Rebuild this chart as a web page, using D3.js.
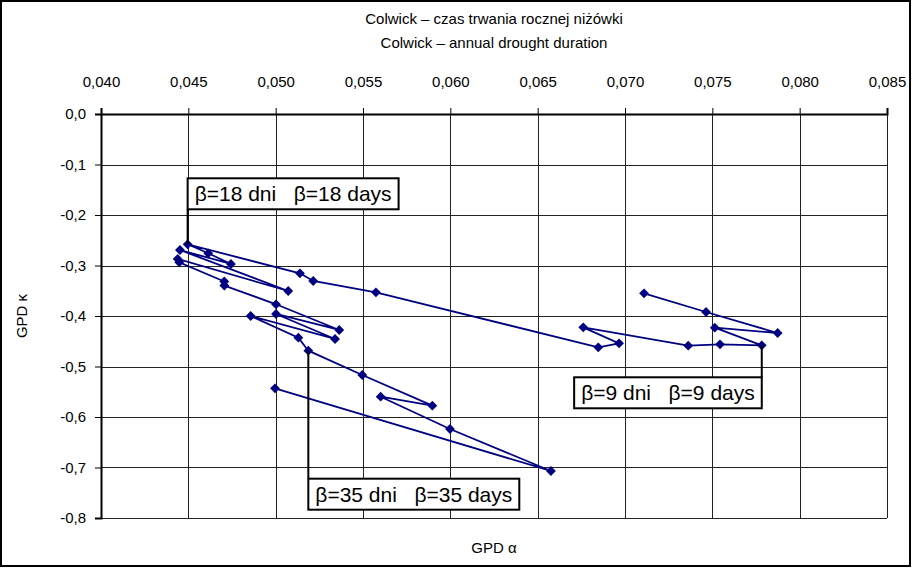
<!DOCTYPE html>
<html><head><meta charset="utf-8">
<script src="https://cdn.jsdelivr.net/npm/d3@7/dist/d3.min.js"></script>
<style>
html,body{margin:0;padding:0;background:#fff;}
svg{display:block;font-family:"Liberation Sans",Arial,sans-serif;}
</style></head>
<body>
<svg id="chart" width="912" height="568"></svg>
<script>
// ---- data (path order, one point per threshold β) ----
const alphaValues = [0.07109, 0.07464, 0.07874, 0.07514, 0.07783, 0.07544, 0.07362, 0.06761, 0.06966, 0.06847,
  0.05574, 0.05215, 0.05139, 0.04496, 0.04614, 0.04744, 0.04452, 0.05072, 0.04439, 0.04448,
  0.04706, 0.04706, 0.05002, 0.05364, 0.05002, 0.05340, 0.04857, 0.05130, 0.05187, 0.05496,
  0.05897, 0.05601, 0.05998, 0.06576, 0.04996];
const kappaValues = [-0.3551, -0.3921, -0.4337, -0.4232, -0.4580, -0.4560, -0.4588, -0.4224, -0.4541, -0.4620,
  -0.3531, -0.3307, -0.3155, -0.2580, -0.2758, -0.2970, -0.2693, -0.3505, -0.2871, -0.2937,
  -0.3317, -0.3396, -0.3768, -0.4277, -0.3960, -0.4455, -0.4000, -0.4430, -0.4687, -0.5168,
  -0.5776, -0.5598, -0.6238, -0.7069, -0.5432];
const xTicks = [0.040, 0.045, 0.050, 0.055, 0.060, 0.065, 0.070, 0.075, 0.080, 0.085];
const yTicks = [0.0, -0.1, -0.2, -0.3, -0.4, -0.5, -0.6, -0.7, -0.8];
const labelTexts = ["β=9 dni   β=9 days", "β=18 dni   β=18 days", "β=35 dni   β=35 days"];
const labelIndex = [4, 13, 28];
const titleLines = ["Colwick – czas trwania rocznej niżówki", "Colwick – annual drought duration"];
const xTitle = "GPD α";
const yTitle = "GPD κ";

// ---- layout ----
const svg = d3.select("#chart");
const W = 912, H = 568;
const plot = {left: 101, right: 887, top: 114, bottom: 518};
const navy = "#000080";
const loc = d3.formatLocale({decimal: ",", thousands: " ", grouping: [3], currency: ["", ""], minus: "-"});
const fx = loc.format(".3f"), fy = loc.format(".1f");

const x = d3.scaleLinear().domain([0.040, 0.085]).range([plot.left, plot.right]);
const y = d3.scaleLinear().domain([0.0, -0.8]).range([plot.top, plot.bottom]);

// outer frame
svg.append("rect").attr("x", 1).attr("y", 1).attr("width", W - 3).attr("height", H - 3)
  .attr("fill", "#fff").attr("stroke", "#000").attr("stroke-width", 2);

// title
svg.append("g").selectAll("text").data(titleLines).join("text")
  .attr("x", (plot.left + plot.right) / 2).attr("y", (d, i) => 24 + i * 24)
  .attr("text-anchor", "middle").attr("font-size", 15).attr("fill", "#000").text(d => d);

// gridlines
const grid = svg.append("g").attr("stroke", "#222").attr("stroke-width", 1).attr("shape-rendering", "crispEdges");
grid.selectAll("line.v").data(xTicks).join("line").attr("class", "v")
  .attr("x1", d => Math.round(x(d)) + 0.5).attr("x2", d => Math.round(x(d)) + 0.5)
  .attr("y1", plot.top).attr("y2", plot.bottom);
grid.selectAll("line.h").data(yTicks).join("line").attr("class", "h")
  .attr("y1", d => Math.round(y(d)) + 0.5).attr("y2", d => Math.round(y(d)) + 0.5)
  .attr("x1", plot.left).attr("x2", plot.right);

// axes
const xAxis = svg.append("g").attr("transform", `translate(0,${plot.top})`)
  .call(d3.axisTop(x).tickValues(xTicks).tickFormat(fx).tickSizeOuter(0).tickSize(6).tickPadding(21));
const yAxis = svg.append("g").attr("transform", `translate(${plot.left},0)`)
  .call(d3.axisLeft(y).tickValues(yTicks).tickFormat(fy).tickSizeOuter(0).tickSize(6).tickPadding(9));
[xAxis, yAxis].forEach(a => {
  a.select(".domain").attr("stroke", "#000").attr("stroke-width", 2);
  a.selectAll(".tick line").attr("stroke", "#000").attr("stroke-width", 1);
  a.selectAll(".tick text").attr("font-size", 15).attr("fill", "#000")
    .attr("font-family", "Liberation Sans, Arial, sans-serif");
});

// axis titles
svg.append("text").attr("x", (plot.left + plot.right) / 2).attr("y", 553)
  .attr("text-anchor", "middle").attr("font-size", 15).text(xTitle);
svg.append("text").attr("transform", `translate(27,${(plot.top + plot.bottom) / 2}) rotate(-90)`)
  .attr("text-anchor", "middle").attr("font-size", 15).text(yTitle);

// series
const pts = alphaValues.map((a, i) => ({a, k: kappaValues[i]}));
svg.append("path").datum(pts)
  .attr("d", d3.line().x(d => x(d.a)).y(d => y(d.k)))
  .attr("fill", "none").attr("stroke", navy).attr("stroke-width", 1.8).attr("stroke-linejoin", "miter");
svg.append("g").selectAll("path").data(pts).join("path")
  .attr("d", d3.symbol().type(d3.symbolSquare).size(48))
  .attr("transform", d => `translate(${x(d.a)},${y(d.k)}) rotate(45)`)
  .attr("fill", navy);

// annotations: [box side relative to leader, vertical offset from point]
const annLayout = [
  {anchor: "right", dy: 32},   // β=9 : box below, right edge on leader
  {anchor: "left", dy: -35},   // β=18: box above, left edge on leader
  {anchor: "left", dy: 128}    // β=35: box below, left edge on leader
];
const boxH = 31, padX = 7;
labelTexts.forEach((t, i) => {
  const p = pts[labelIndex[i]];
  const px = x(p.a), py = y(p.k);
  const L = annLayout[i];
  const g = svg.append("g");
  const txt = g.append("text").attr("font-size", 21).attr("xml:space", "preserve")
    .style("white-space", "pre").text(t);
  const bw = txt.node().getComputedTextLength() + padX * 2;
  const bx = L.anchor === "left" ? px : px - bw;
  const by = L.dy < 0 ? py + L.dy - boxH : py + L.dy;
  const ly1 = py + L.dy;
  g.insert("line", "text").attr("x1", px).attr("x2", px).attr("y1", py).attr("y2", ly1)
    .attr("stroke", "#000").attr("stroke-width", 2);
  g.insert("rect", "text").attr("x", bx).attr("y", by).attr("width", bw).attr("height", boxH)
    .attr("fill", "#fff").attr("stroke", "#000").attr("stroke-width", 2);
  txt.attr("x", bx + padX).attr("y", by + boxH / 2).attr("dy", "0.36em");
});
</script>
</body></html>
